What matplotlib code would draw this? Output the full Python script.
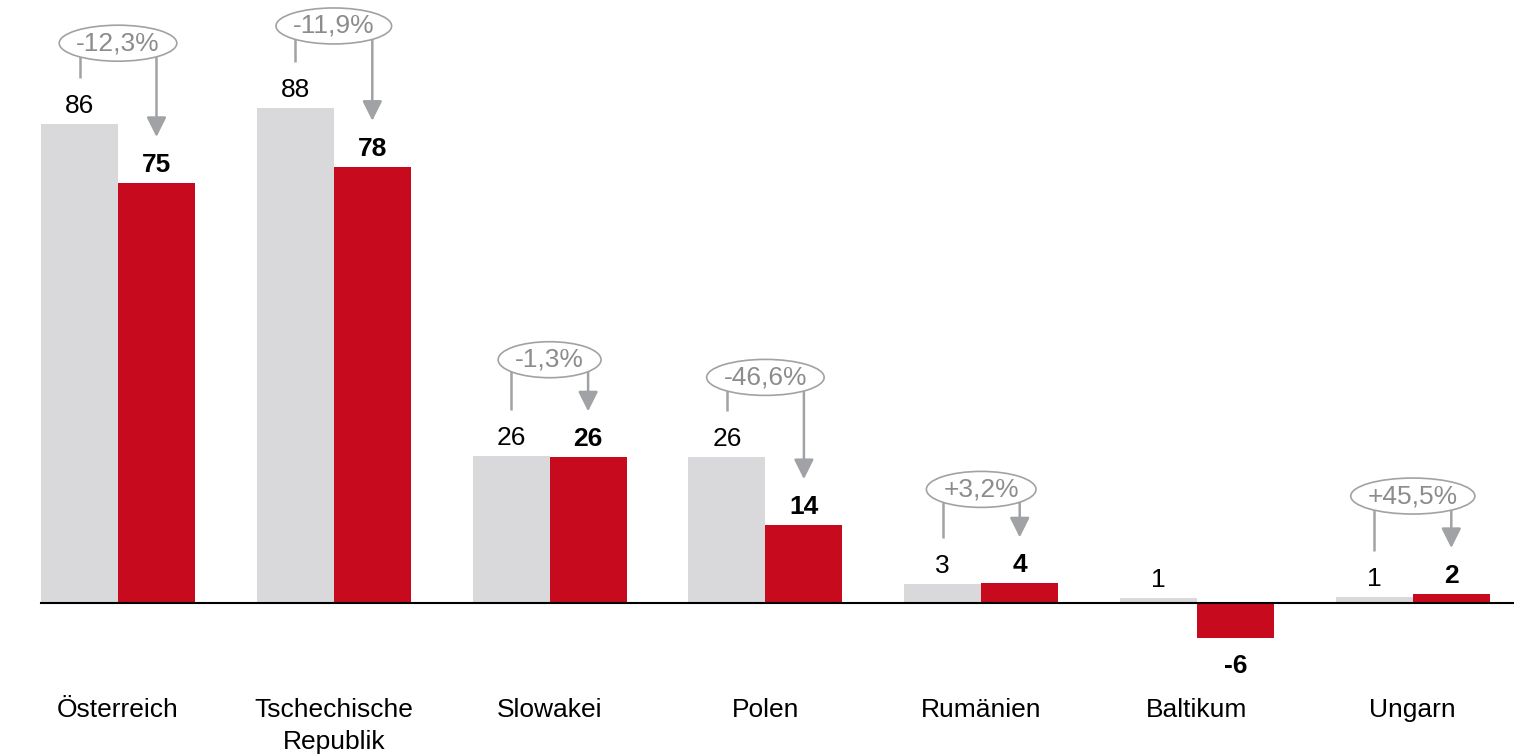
import math
import matplotlib
matplotlib.use("Agg")
import matplotlib.pyplot as plt
from matplotlib.patches import Ellipse

# ---------------- data ----------------
categories = ["Österreich", "Tschechische\nRepublik", "Slowakei", "Polen",
              "Rumänien", "Baltikum", "Ungarn"]
prev_values = [85.5, 88.4, 26.3, 26.0, 3.4, 0.9, 1.1]
curr_values = [75.0, 77.9, 26.0, 13.9, 3.5, -6.2, 1.6]
changes = ["-12,3%", "-11,9%", "-1,3%", "-46,6%", "+3,2%", None, "+45,5%"]

# ---------------- layout ----------------
bubble_lift_px = [81, 82, 96, 80, 94, None, 98]

W, H, DPI = 1514, 755, 100
GREY = "#d9d9db"
RED = "#c80a1e"
LINE = "#a0a2a5"
BUB_TXT = "#8c8c8c"
FONT = "Liberation Sans"
FS = 19

fig = plt.figure(figsize=(W / DPI, H / DPI), dpi=DPI)
ax = fig.add_axes([0, 0, 1, 1])
PX_X = 215.8     # pixels per category
X0 = 118         # pixel position of first category
PX_Y = 5.6       # pixels per unit
Y0 = 603         # pixel position of zero line
ax.set_xlim(-X0 / PX_X, (W - X0) / PX_X)
ax.set_ylim(-(H - Y0) / PX_Y, Y0 / PX_Y)
ax.axis("off")


def dx(px):
    return px / PX_X


def dy(px):
    return px / PX_Y


def fmt(v):
    r = math.floor(abs(v) + 0.5)
    return f"-{r}" if v < 0 else f"{r}"


bw = dx(77)
xs = list(range(len(categories)))
ax.bar([x - bw / 2 for x in xs], prev_values, width=bw, color=GREY, zorder=2)
ax.bar([x + bw / 2 for x in xs], curr_values, width=bw, color=RED, zorder=2)

# zero line
x_left = (xs[0] - bw - ax.get_xlim()[0]) / (ax.get_xlim()[1] - ax.get_xlim()[0])
ax.axhline(0, xmin=x_left, xmax=1, color="black", lw=1.5, zorder=3)

# value labels
for x, pv, cv in zip(xs, prev_values, curr_values):
    for xx, v, wgt in ((x - bw / 2, pv, "normal"), (x + bw / 2, cv, "bold")):
        if v >= 0:
            ax.text(xx, v + dy(6), fmt(v), ha="center", va="bottom",
                    fontsize=FS, fontweight=wgt, family=FONT, color="black")
        else:
            ax.text(xx, v - dy(16), fmt(v), ha="center", va="top",
                    fontsize=FS, fontweight=wgt, family=FONT, color="black")

# category labels
for x, c in zip(xs, categories):
    ax.text(x, -dy(95), c, ha="center", va="top", fontsize=FS,
            family=FONT, color="black", linespacing=1.42)

# change bubbles
fig.canvas.draw()
renderer = fig.canvas.get_renderer()
for x, pv, cv, ch, lift in zip(xs, prev_values, curr_values, changes, bubble_lift_px):
    if ch is None:
        continue
    top = max(pv, cv)
    yc = top + dy(lift)
    t = ax.text(x, yc, ch, ha="center", va="center", fontsize=FS,
                family=FONT, color=BUB_TXT, zorder=6)
    ext = t.get_window_extent(renderer)
    ew = dx(ext.width + 34)
    eh = dy(36)
    ax.add_patch(Ellipse((x, yc), ew, eh, facecolor="white",
                         edgecolor=LINE, lw=1.2, zorder=5))
    # left bracket line
    ax.plot([x - bw / 2, x - bw / 2], [yc, pv + dy(46)], color=LINE,
            lw=1.8, zorder=4, solid_capstyle="butt")
    # arrow
    ax.annotate("", xy=(x + bw / 2, cv + dy(46)), xytext=(x + bw / 2, yc),
                arrowprops=dict(arrowstyle="-|>,head_length=0.4,head_width=0.2",
                                color=LINE, lw=1.8, mutation_scale=30,
                                shrinkA=0, shrinkB=0),
                zorder=4)

fig.savefig("out.png", dpi=DPI)
